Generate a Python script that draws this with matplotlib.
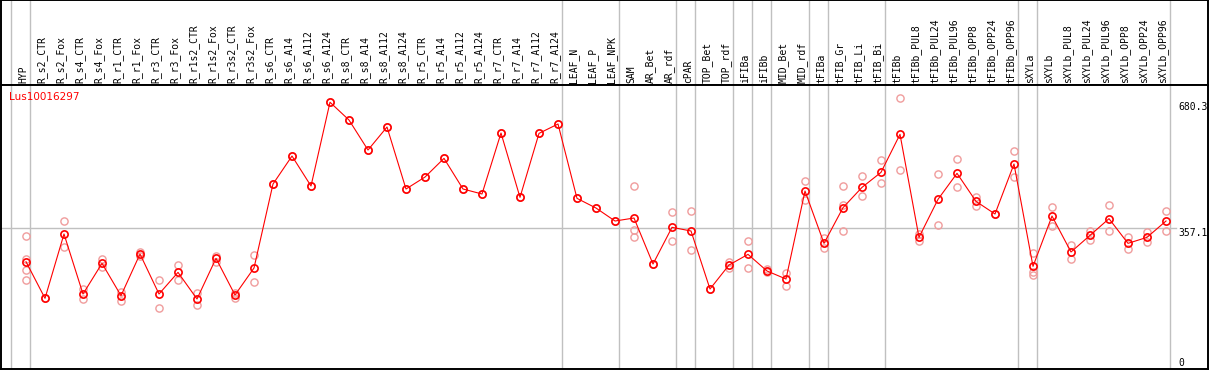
import matplotlib
matplotlib.use("Agg")
import matplotlib.pyplot as plt
import matplotlib.transforms as mtransforms

# sample names (one column each)
samples = ["HYP", "R_s2_CTR", "R_s2_Fox", "R_s4_CTR", "R_s4_Fox", "R_r1_CTR", "R_r1_Fox",
           "R_r3_CTR", "R_r3_Fox", "R_r1s2_CTR", "R_r1s2_Fox", "R_r3s2_CTR", "R_r3s2_Fox",
           "R_s6_CTR", "R_s6_A14", "R_s6_A112", "R_s6_A124", "R_s8_CTR", "R_s8_A14",
           "R_s8_A112", "R_s8_A124", "R_r5_CTR", "R_r5_A14", "R_r5_A112", "R_r5_A124",
           "R_r7_CTR", "R_r7_A14", "R_r7_A112", "R_r7_A124", "LEAF_N", "LEAF_P", "LEAF_NPK",
           "SAM", "AR_Bet", "AR_rdf", "cPAR", "TOP_Bet", "TOP_rdf", "iFIBa", "iFIBb",
           "MID_Bet", "MID_rdf", "tFIBa", "tFIB_Gr", "tFIB_Li", "tFIB_Bi", "tFIBb",
           "tFIBb_PUL8", "tFIBb_PUL24", "tFIBb_PUL96", "tFIBb_OPP8", "tFIBb_OPP24",
           "tFIBb_OPP96", "sXYLa", "sXYLb", "sXYLb_PUL8", "sXYLb_PUL24", "sXYLb_PUL96",
           "sXYLb_OPP8", "sXYLb_OPP24", "sXYLb_OPP96"]

# mean expression per sample
means = [271.4, 177.4, 342.4, 188.5, 267.1, 184.2, 291.1, 188.5, 244.0, 175.7,
         279.9, 185.9, 255.2, 470.6, 542.4, 465.5, 680.3, 634.7, 557.8, 616.8,
         457.8, 488.5, 536.4, 457.8, 445.0, 601.4, 436.4, 600.5, 624.5, 433.8,
         409.0, 375.7, 383.4, 265.4, 359.5, 350.1, 201.3, 262.8, 290.2, 247.5,
         227.0, 452.6, 318.4, 409.9, 462.0, 500.5, 598.0, 333.8, 431.3, 498.0,
         426.1, 393.7, 521.9, 259.4, 388.5, 296.2, 338.9, 381.7, 318.4, 333.8, 375.7]

# replicate values per sample
reps = [[337.2, 278.2, 249.2, 224.4], [177.4], [375.7, 308.2], [201.3, 176.5],
        [277.4, 258.6], [192.8, 171.4], [297.0, 286.8], [223.5, 151.7],
        [262.0, 223.5], [190.2, 159.4], [286.8, 271.4], [190.2, 177.4],
        [288.5, 218.4], [470.6], [542.4], [465.5], [680.3], [634.7], [557.8],
        [616.8], [457.8], [488.5], [536.4], [457.8], [445.0], [601.4], [436.4],
        [600.5], [624.5], [433.8], [409.0], [375.7], [465.5, 352.6, 333.8],
        [265.4], [398.8, 323.6], [401.3, 301.3], [201.3], [271.4, 254.3],
        [324.4, 255.2], [252.6, 244.0], [243.2, 209.8], [477.4, 429.6],
        [331.3, 305.6], [465.5, 416.7, 350.1], [491.1, 439.0], [532.1, 472.3],
        [690.3, 505.6], [342.4, 325.3], [496.2, 365.4], [534.7, 462.0],
        [438.1, 415.0], [393.7], [555.2, 488.5], [294.5, 245.8, 237.2],
        [411.6, 362.0], [314.1, 278.2], [350.9, 326.1], [416.7, 350.9],
        [334.7, 303.0], [348.3, 321.0], [401.3, 350.1]]

# columns followed by a group separator
group_ends = [-1, 0, 28, 31, 34, 35, 37, 38, 39, 41, 42, 45, 52, 53, 60]

gene = "Lus10016297"
ref_value = 357.1
max_label = "680.3"

W, H = 1209, 370
fig = plt.figure(figsize=(W / 100, H / 100), dpi=100)
fig.patch.set_facecolor("white")

xlo, xhi = (1 - 26) / 19, (1208 - 26) / 19
ax_h = fig.add_axes([1 / W, (H - 85) / H, 1207 / W, 85 / H])
ax = fig.add_axes([1 / W, 1 / H, 1207 / W, 284 / H])

for a in (ax, ax_h):
    a.set_xlim(xlo, xhi)
    a.set_xticks([])
    a.set_yticks([])
    for s in a.spines.values():
        s.set_color("black")
        s.set_linewidth(1.4)
    for g in group_ends:
        a.axvline(g + 4 / 19, color="#c0c0c0", lw=1.0, zorder=1)

ax.set_ylim((367.5 - 369) / 0.3899, (367.5 - 85) / 0.3899)
ax_h.set_ylim(0, 1)

# header labels
for i, name in enumerate(samples):
    ax_h.text(i - 3 / 19, 0.025, name, rotation=90, ha="center", va="bottom",
              fontsize=7, family="DejaVu Sans Mono", color="black")

# reference line
ax.plot([xlo, (1176 - 26) / 19], [ref_value, ref_value], color="#c0c0c0", lw=1.0, zorder=1)

# replicates
for i, r in enumerate(reps):
    ax.plot([i] * len(r), r, ls="none", marker="o", ms=5.2, mfc="none",
            mec="#f09c9c", mew=1.0, zorder=2)

# mean line
ax.plot(range(len(means)), means, color="red", lw=0.8, marker="o", ms=5.2,
        mfc="none", mec="red", mew=1.2, zorder=3)

ax.text(8 / 1207, 1 - 12 / 284, gene, transform=ax.transAxes, color="red",
        fontsize=7.5, family="DejaVu Sans", va="center", ha="left")

tr = mtransforms.blended_transform_factory(fig.transFigure, ax.transData)
ax.text(1178 / W, 680.3, max_label, transform=tr, fontsize=7,
        family="DejaVu Sans Mono", va="top", ha="left")
ax.text(1178 / W, ref_value, "357.1", transform=tr, fontsize=7,
        family="DejaVu Sans Mono", va="top", ha="left")
ax.text(1178 / W, 0, "0", transform=tr, fontsize=7,
        family="DejaVu Sans Mono", va="bottom", ha="left")

fig.savefig("out.png", dpi=100)
